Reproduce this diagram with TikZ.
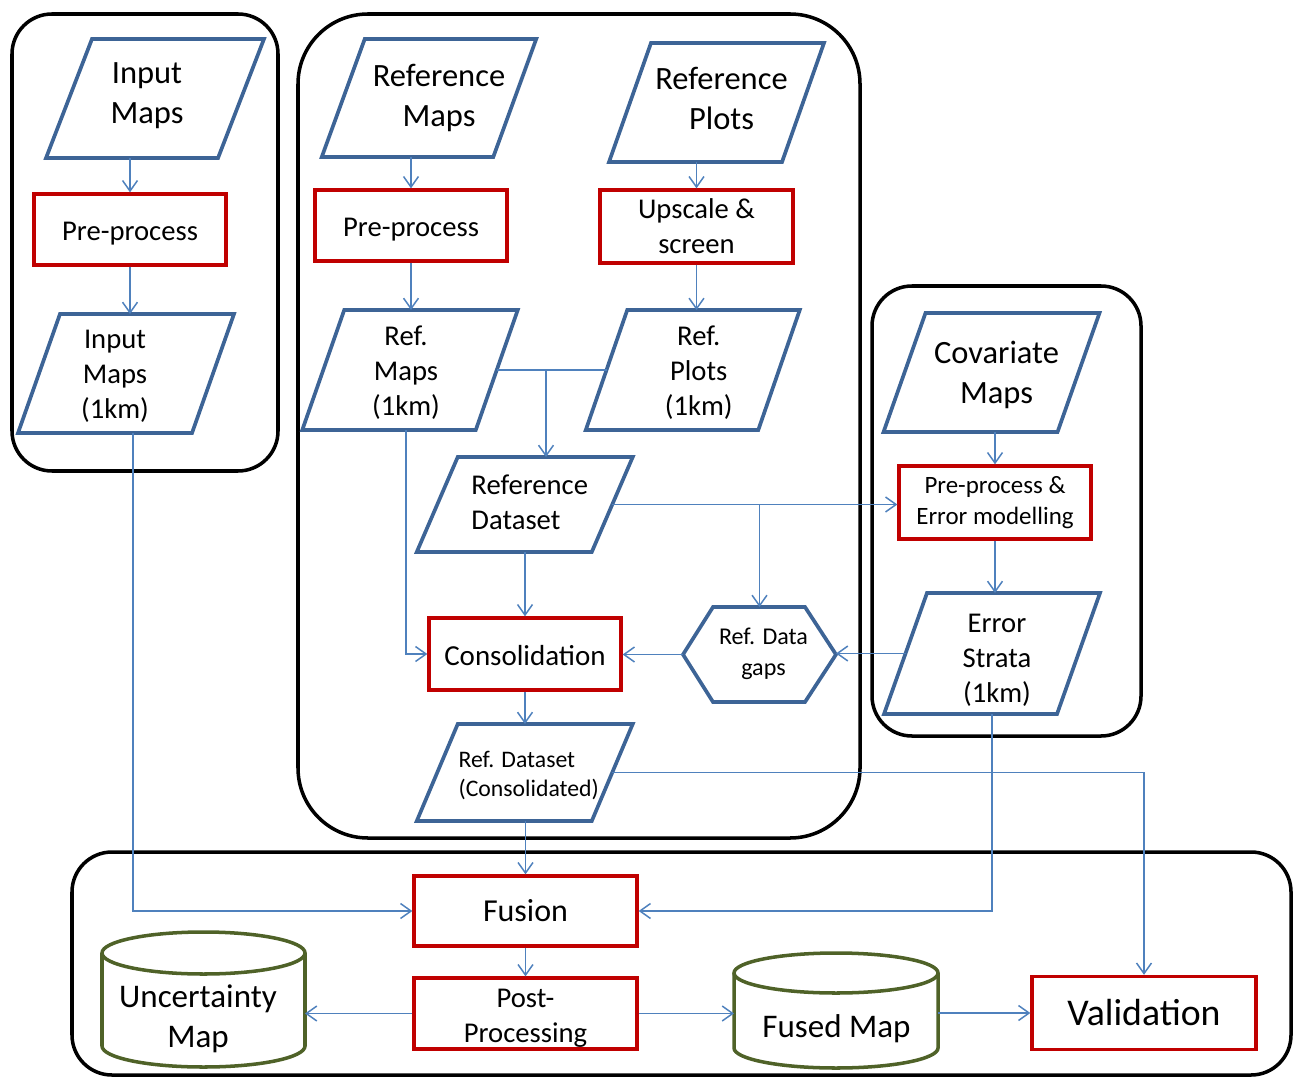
\documentclass[tikz,border=0pt]{standalone}
\usepackage{fontspec}
\setmainfont{Carlito}
\usetikzlibrary{arrows.meta,calc}
\definecolor{pblue}{HTML}{3D6496}
\definecolor{cblue}{HTML}{4F81BD}
\definecolor{pred}{HTML}{C00000}
\definecolor{pgreen}{HTML}{4F6228}
\newcommand\fbig{\fontsize{18.5}{22.8}\selectfont}
\newcommand\fmid{\fontsize{16.3}{19.9}\selectfont}
\newcommand\fsml{\fontsize{13.7}{17.6}\selectfont}
\newcommand{\para}[8]{%
  \node[ghost,minimum width=#3*0.02cm,minimum height=#4*0.02cm] (#1) at (#2) {};
  \draw[pshape] ([xshift=#5*0.01cm]#1.north west) -- ([xshift=#5*0.01cm]#1.north east) -- ([xshift=-#5*0.01cm]#1.south east) -- ([xshift=-#5*0.01cm]#1.south west) -- cycle;
  \node[txt,#6] (#1-t) at ([shift={(#7)}]#1.center) {#8};
}
\newcommand\lowtext[1]{\raisebox{-2.3pt}[\height][\depth]{#1}}
\begin{document}
\begin{tikzpicture}[x=0.02cm,y=-0.02cm,
 grp/.style={draw=black,line width=2pt},
 pshape/.style={draw=pblue,line width=2.1pt,line join=miter},
 ghost/.style={inner sep=0pt,outer sep=0pt},
 rbox/.style={draw=pred,line width=1.9pt,fill=white,inner sep=0pt,align=center,font=\fmid},
 txt/.style={inner sep=0pt,align=center},
 conn/.style={draw=cblue,line width=0.85pt,-{Straight Barb[length=6pt,width=8.5pt]}},
 link/.style={draw=cblue,line width=0.85pt},
 cyl/.style={draw=pgreen,line width=2pt}]
\useasboundingbox (0,0) rectangle (1293,1077);

% group frames
\draw[grp,rounded corners=0.8cm] (12,14) rectangle (278,471);
\draw[grp,rounded corners=1.4cm] (298,14) rectangle (860,838);
\draw[grp,rounded corners=0.8cm] (872,286) rectangle (1141,736);
\draw[grp,rounded corners=0.8cm] (72,852) rectangle (1291,1075);

% parallelograms
\para{inmaps}{155,98.5}{172}{119}{46}{font=\fbig}{-8,-3}{Input\\Maps}
\para{inmaps1}{126,373.5}{174}{119}{42}{font=\fmid}{-11,3}{Input\\Maps\\(1km)}
\para{refmaps}{429,98}{171.5}{118}{43}{font=\fbig}{10,0}{Reference\\Maps}
\para{refplots}{716.5,102.5}{173}{119}{42}{font=\fbig}{5,-4}{Reference\\Plots}
\para{refmaps1}{410,370}{173.5}{120}{42}{font=\fmid}{-4,3}{Ref.\\Maps\\(1km)}
\para{refplots1}{692.75,370}{172.5}{120}{41.5}{font=\fmid}{6,3}{Ref.\\Plots\\(1km)}
\para{refds}{524.75,504.5}{175}{95}{41}{font=\fmid,align=left}{5,-2}{Reference\\Dataset}
\para{refdsc}{524.75,772.5}{175}{97}{41}{font={\fontsize{13.5}{16.5}\selectfont},align=left}{4,3}{Ref. Dataset\\(Consolidated)}
\para{covmaps}{991.5,372.5}{174}{119}{42}{font=\fbig}{5,2}{Covariate\\Maps}
\para{errstrata}{992,653.5}{173}{121}{43}{font=\fmid}{5,7}{Error\\Strata\\(1km)}

% red process boxes
\node[rbox,minimum width=3.84cm,minimum height=1.42cm] (pp1) at (130,229.5) {\lowtext{Pre-process}};
\node[rbox,minimum width=3.84cm,minimum height=1.42cm] (pp2) at (411,225.5) {\lowtext{Pre-process}};
\node[rbox,minimum width=3.86cm,minimum height=1.46cm] (ups) at (696.5,226.5) {Upscale \&\\screen};
\node[rbox,minimum width=3.84cm,minimum height=1.44cm,font={\fontsize{16.5}{20}\selectfont}] (cons) at (525,654) {\raisebox{-1pt}[\height][\depth]{Consolidation}};
\node[rbox,minimum width=3.84cm,minimum height=1.46cm,font={\fontsize{14.2}{17.6}\selectfont}] (pperr) at (995,502.5) {Pre-process \&\\Error modelling};
\node[rbox,minimum width=4.46cm,minimum height=1.40cm,font={\fontsize{18.2}{22}\selectfont}] (fusion) at (525.5,911) {Fusion};
\node[rbox,minimum width=4.46cm,minimum height=1.42cm] (post) at (525.5,1013.5) {\lowtext{\begin{tabular}{@{}c@{}}Post-\\Processing\end{tabular}}};
\node[rbox,minimum width=4.48cm,minimum height=1.46cm,font={\fontsize{21.5}{25}\selectfont}] (valid) at (1144,1013) {Validation};

% hexagon
\node[ghost,minimum width=3.06cm,minimum height=1.90cm] (gaps) at (759.5,654.5) {};
\draw[pshape] (gaps.west) -- ([xshift=0.6cm]gaps.north west) -- ([xshift=-0.62cm]gaps.north east) -- (gaps.east) -- ([xshift=-0.62cm]gaps.south east) -- ([xshift=0.6cm]gaps.south west) -- cycle;
\node[txt,font=\fsml] (gaps-t) at ([shift={(4,-1)}]gaps.center) {Ref. Data\\gaps};

% cylinders
\node[ghost,minimum width=4.06cm,minimum height=1.9cm] (unc) at (203.5,1000) {};
\draw[cyl] (203.5,953) ellipse [x radius=101.5, y radius=21];
\draw[cyl] (102,953) -- (102,1046) .. controls (102,1057.6) and (147.4,1067) .. (203.5,1067) .. controls (259.6,1067) and (305,1057.6) .. (305,1046) -- (305,953);
\node[txt,font={\fontsize{18.8}{22.8}\selectfont}] (unc-t) at (198,1019) {Uncertainty\\Map};

\node[ghost,minimum width=4.08cm,minimum height=1.9cm] (fused) at (836,1013) {};
\draw[cyl] (836,973) ellipse [x radius=102, y radius=20];
\draw[cyl] (734,973) -- (734,1048) .. controls (734,1059) and (779.7,1068) .. (836,1068) .. controls (892.3,1068) and (938,1059) .. (938,1048) -- (938,973);
\node[txt,font={\fontsize{18.8}{22.8}\selectfont}] (fused-t) at (836.5,1029) {Fused Map};

% connectors
\draw[conn] (pp1.north |- inmaps.south) -- (pp1.north);
\draw[conn] (pp1.south) -- (pp1.south |- inmaps1.north);
\draw[conn] ([xshift=0.14cm]inmaps1.south) |- (fusion.west);
\draw[conn] (pp2.north |- refmaps.south) -- (pp2.north);
\draw[conn] (pp2.south) -- (pp2.south |- refmaps1.north);
\draw[conn] (ups.north |- refplots.south) -- (ups.north);
\draw[conn] (ups.south) -- (ups.south |- refplots1.north);
\draw[link] (refmaps1.east) -- (refplots1.west);
\coordinate (j1) at (546,370);
\draw[conn] (j1) -- (j1 |- refds.north);
\draw[conn] ([xshift=-0.08cm]refmaps1.south) |- (cons.west);
\draw[conn] (refds.east) -- (refds.east -| pperr.west);
\draw[conn] (gaps.north |- refds.east) -- (gaps.north);
\draw[conn] (cons.north |- refds.south) -- (cons.north);
\draw[conn] (gaps.west) -- (gaps.west -| cons.east);
\draw[conn] (errstrata.west) -- (errstrata.west -| gaps.east);
\draw[conn] (pperr.north |- covmaps.south) -- (pperr.north);
\draw[conn] (pperr.south) -- (pperr.south |- errstrata.north);
\draw[conn] (errstrata.south) |- (fusion.east);
\draw[conn] (cons.south) -- (cons.south |- refdsc.north);
\draw[conn] (refdsc.east) -| (valid.north);
\draw[conn] (fusion.north |- refdsc.south) -- (fusion.north);
\draw[conn] (fusion.south) -- (post.north);
\draw[conn] (post.west) -- (post.west -| unc.east);
\draw[conn] (post.east) -- (post.east -| fused.west);
\draw[conn] (fused.east) -- (fused.east -| valid.west);
\end{tikzpicture}
\end{document}
